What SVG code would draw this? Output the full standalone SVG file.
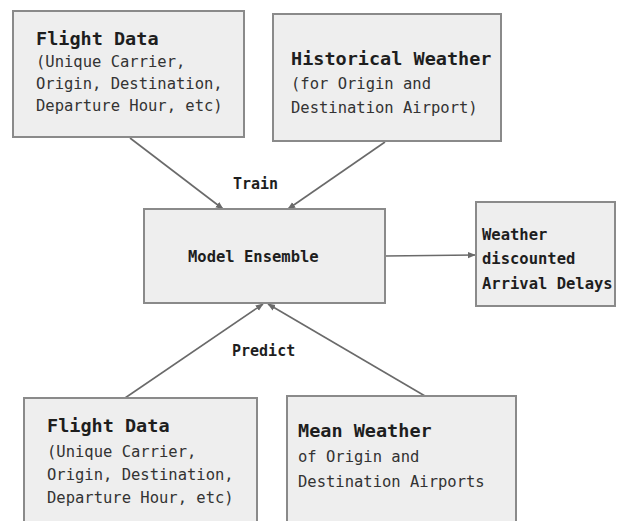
<svg xmlns="http://www.w3.org/2000/svg" width="617" height="521" viewBox="0 0 617 521">
<defs>
<style>
.box{fill:#eeeeee;stroke:#8a8a8a;stroke-width:2}
.t{font-family:"DejaVu Sans Mono","Liberation Mono",monospace;font-weight:bold;font-size:18.5px;fill:#1e1e1e}
.s{font-family:"DejaVu Sans Mono","Liberation Mono",monospace;font-size:15.5px;fill:#333}
.b{font-family:"DejaVu Sans Mono","Liberation Mono",monospace;font-weight:bold;font-size:15px;fill:#1e1e1e}
.c{stroke:#6a6a6a;stroke-width:1.6;fill:none;marker-end:url(#ah)}
</style>
<marker id="ah" viewBox="0 0 10 10" refX="9" refY="5" markerWidth="5" markerHeight="5" orient="auto" markerUnits="strokeWidth">
<path d="M0,1 L10,5 L0,9 z" fill="#6a6a6a"/>
</marker>
</defs>
<rect width="617" height="521" fill="#ffffff"/>
<g id="connectors">
<line class="c" x1="130" y1="138" x2="223" y2="209"/>
<line class="c" x1="385" y1="142" x2="288" y2="209"/>
<line class="c" x1="385" y1="256" x2="475" y2="255"/>
<line class="c" x1="125" y1="398" x2="263" y2="304"/>
<line class="c" x1="425" y1="396" x2="268" y2="304"/>
</g>
<g id="flight-data-train">
<rect class="box" x="13" y="11" width="231" height="126"/>
<text class="t" x="36" y="45">Flight Data</text>
<text class="s" x="36" y="67">(Unique Carrier,</text>
<text class="s" x="36" y="89">Origin, Destination,</text>
<text class="s" x="36" y="111">Departure Hour, etc)</text>
</g>
<g id="historical-weather">
<rect class="box" x="273" y="14" width="228" height="127"/>
<text class="t" x="291" y="65">Historical Weather</text>
<text class="s" x="291" y="89">(for Origin and</text>
<text class="s" x="291" y="113">Destination Airport)</text>
</g>
<g id="label-train">
<text class="b" x="233" y="189">Train</text>
</g>
<g id="model-ensemble">
<rect class="box" x="144" y="209" width="241" height="94"/>
<text class="b" x="188" y="262" style="font-size:15.5px">Model Ensemble</text>
</g>
<g id="output">
<rect class="box" x="476" y="202" width="139" height="104"/>
<text class="b" x="482" y="240" style="font-size:15.5px">Weather</text>
<text class="b" x="482" y="264" style="font-size:15.5px">discounted</text>
<text class="b" x="482" y="289" style="font-size:15.5px">Arrival Delays</text>
</g>
<g id="label-predict">
<text class="b" x="232" y="356">Predict</text>
</g>
<g id="flight-data-predict">
<rect class="box" x="24" y="398" width="233" height="140"/>
<text class="t" x="47" y="432">Flight Data</text>
<text class="s" x="47" y="457">(Unique Carrier,</text>
<text class="s" x="47" y="480">Origin, Destination,</text>
<text class="s" x="47" y="503">Departure Hour, etc)</text>
</g>
<g id="mean-weather">
<rect class="box" x="287" y="396" width="229" height="140"/>
<text class="t" x="298" y="437">Mean Weather</text>
<text class="s" x="298" y="462">of Origin and</text>
<text class="s" x="298" y="487">Destination Airports</text>
</g>
</svg>
